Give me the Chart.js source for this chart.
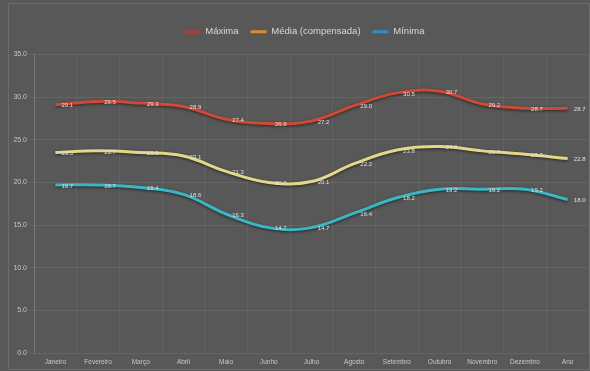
<!DOCTYPE html>
<html>
<head>
<meta charset="utf-8">
<script src="https://cdn.jsdelivr.net/npm/chart.js@4/dist/chart.umd.min.js"></script>
<style>
  html, body { margin: 0; padding: 0; background: #585858; }
  #wrap { position: relative; width: 590px; height: 371px; }
</style>
</head>
<body>
<div id="wrap"><canvas id="grafico"></canvas></div>
<script>
// Temperaturas mensais (°C)
const meses = ['Janeiro', 'Fevereiro', 'Março', 'Abril', 'Maio', 'Junho', 'Julho',
               'Agosto', 'Setembro', 'Outubro', 'Novembro', 'Dezembro', 'Ano'];
const maxima = [29.1, 29.5, 29.3, 28.9, 27.4, 26.9, 27.2, 29.0, 30.5, 30.7, 29.2, 28.7, 28.7];
const media  = [23.5, 23.7, 23.5, 23.1, 21.3, 20.0, 20.1, 22.2, 23.8, 24.2, 23.7, 23.3, 22.8];
const minima = [19.7, 19.7, 19.4, 18.6, 16.3, 14.7, 14.7, 16.4, 18.2, 19.2, 19.2, 19.2, 18.0];
const eixoY = { min: 0, max: 35, passo: 5 };

const FONTE = "'Liberation Sans', Arial, sans-serif";

// sombra escura sob as linhas
const sombraLinhas = {
  id: 'sombraLinhas',
  beforeDatasetDraw(chart) {
    const ctx = chart.ctx;
    ctx.save();
    ctx.shadowColor = 'rgba(0,0,0,0.6)';
    ctx.shadowBlur = 3;
    ctx.shadowOffsetY = 1;
  },
  afterDatasetDraw(chart) { chart.ctx.restore(); }
};

// rótulos de valor à direita de cada ponto
const rotulos = {
  id: 'rotulos',
  afterDatasetsDraw(chart) {
    const ctx = chart.ctx;
    ctx.save();
    ctx.font = '6px ' + FONTE;
    ctx.fillStyle = '#e0e0e0';
    ctx.textAlign = 'center';
    ctx.textBaseline = 'middle';
    chart.data.datasets.forEach((ds, i) => {
      chart.getDatasetMeta(i).data.forEach((pt, j) => {
        ctx.fillText(ds.data[j].toFixed(1), pt.x + 12, pt.y + 1);
      });
    });
    ctx.restore();
  }
};

// espaço extra entre a legenda e a área do gráfico; legenda um pouco à direita
const ajusteLegenda = {
  id: 'ajusteLegenda',
  afterInit(chart) {
    const lg = chart.legend;
    if (!lg) return;
    const fit = lg.fit;
    lg.fit = function () { fit.call(this); this.height += 8; };
  },
  afterLayout(chart) {
    const lg = chart.legend;
    if (!lg) return;
    lg.left += 10;
    lg.right += 10;
  }
};

const fundo = {
  id: 'fundo',
  beforeDraw(chart) {
    const ctx = chart.ctx;
    ctx.save();
    ctx.fillStyle = '#585858';
    ctx.fillRect(0, 0, chart.width, chart.height);
    ctx.strokeStyle = 'rgba(255,255,255,0.12)';
    ctx.lineWidth = 1;
    ctx.strokeRect(8.5, 3.5, chart.width - 9, chart.height - 5);
    ctx.restore();
  }
};

const coresLegenda = ['#b03a3a', '#dc8c2c', '#2e8fc2'];

new Chart(document.getElementById('grafico'), {
  type: 'line',
  data: {
    labels: meses,
    datasets: [
      { label: 'Máxima', data: maxima, borderColor: '#cf4a36', backgroundColor: coresLegenda[0] },
      { label: 'Média (compensada)', data: media, borderColor: '#e3d889', backgroundColor: coresLegenda[1] },
      { label: 'Mínima', data: minima, borderColor: '#3ab7c2', backgroundColor: coresLegenda[2] }
    ]
  },
  options: {
    responsive: true,
    maintainAspectRatio: false,
    animation: false,
    devicePixelRatio: 1,
    layout: { padding: { top: 15, right: 1, bottom: 2, left: 0 } },
    elements: {
      line: { borderWidth: 3, tension: 0.4, fill: false },
      point: { radius: 0, hoverRadius: 0 }
    },
    plugins: {
      tooltip: { enabled: false },
      legend: {
        position: 'top',
        labels: {
          font: { family: FONTE, size: 9.5 },
          color: '#d8d8d8',
          boxWidth: 16,
          boxHeight: 3,
          padding: 12,
          generateLabels(chart) {
            return chart.data.datasets.map((ds, i) => ({
              text: ds.label,
              fillStyle: coresLegenda[i],
              strokeStyle: coresLegenda[i],
              lineWidth: 0,
              fontColor: '#d8d8d8',
              datasetIndex: i,
              hidden: false
            }));
          }
        }
      }
    },
    scales: {
      x: {
        offset: true,
        grid: { offset: true, color: 'rgba(255,255,255,0.07)', drawTicks: false },
        border: { display: false },
        ticks: {
          color: '#c8c8c8',
          font: { family: FONTE, size: 6.5 },
          padding: 5,
          maxRotation: 0,
          autoSkip: false
        },
        afterFit(s) { s.height = 16; }
      },
      y: {
        min: eixoY.min,
        max: eixoY.max,
        grid: { color: 'rgba(255,255,255,0.08)', tickLength: 4 },
        border: { color: 'rgba(255,255,255,0.15)' },
        ticks: {
          stepSize: eixoY.passo,
          color: '#c8c8c8',
          font: { family: FONTE, size: 7 },
          padding: 3,
          callback: v => Number(v).toFixed(1)
        },
        afterFit(s) { s.width = 34; }
      }
    }
  },
  plugins: [fundo, ajusteLegenda, sombraLinhas, rotulos]
});
</script>
</body>
</html>
